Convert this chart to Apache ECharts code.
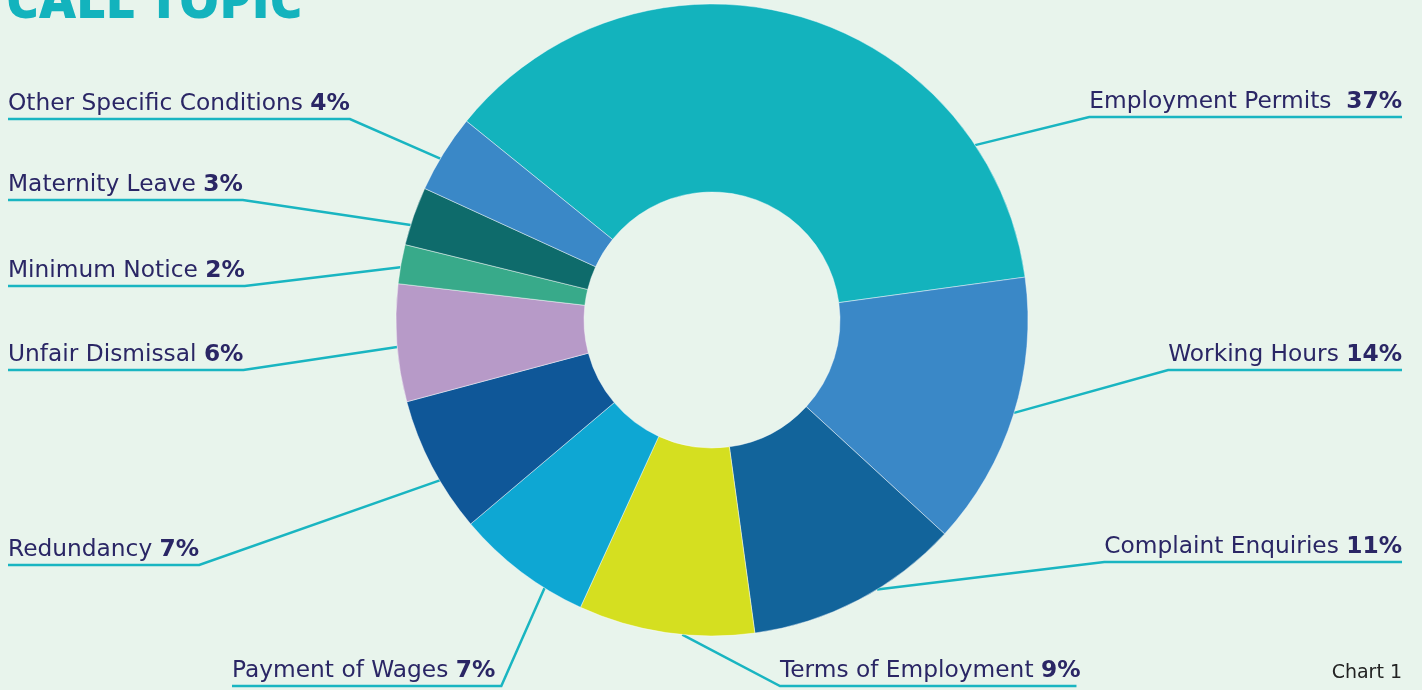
<!DOCTYPE html>
<html>
<head>
<meta charset="utf-8">
<script src="https://cdn.jsdelivr.net/npm/echarts@6/dist/echarts.min.js"></script>
<style>
html,body{margin:0;padding:0;background:#e8f4ec;}
#main{width:1422px;height:690px;}
</style>
</head>
<body>
<div id="main"></div>
<script>
// ---- data ----
const categories = ['Employment Permits', 'Working Hours', 'Complaint Enquiries', 'Terms of Employment',
  'Payment of Wages', 'Redundancy', 'Unfair Dismissal', 'Minimum Notice', 'Maternity Leave', 'Other Specific Conditions'];
const values = [37, 14, 11, 9, 7, 7, 6, 2, 3, 4];
const percentLabels = ['37%', '14%', '11%', '9%', '7%', '7%', '6%', '2%', '3%', '4%'];

// ---- styles / layout ----
const colors = ['#13b3bd', '#3a88c7', '#12649b', '#d5df20', '#0ea7d3', '#0f5798', '#b79ac8', '#38aa8a', '#0e6b6b', '#3a88c7'];
const CX = 712, CY = 320, R_IN = 128, R_OUT = 316;
const labelPlacement = [
  { side: 'right', uy: 117, anchor: 33.6 },
  { side: 'right', uy: 370, anchor: -17.1 },
  { side: 'right', uy: 562, anchor: -58.5 },
  { side: 'bottomR', x: 780, uy: 686, anchor: 264.6 },
  { side: 'bottomL', x: 232, uy: 686, anchor: 238 },
  { side: 'left', uy: 565, anchor: 210.5 },
  { side: 'left', uy: 370, anchor: 184.9 },
  { side: 'left', uy: 286, anchor: 170.4 },
  { side: 'left', uy: 200, anchor: 162.5 },
  { side: 'left', uy: 119, anchor: 149.3 }
];
const TEXT = '#2a2665';
const LINE = '#19b5c1';
const FONT = '"DejaVu Sans", "Open Sans", sans-serif';
const TITLE_FONT = '"Open Sans", "DejaVu Sans", sans-serif';

const chart = echarts.init(document.getElementById('main'), null, { renderer: 'canvas' });

const data = categories.map((name, i) => ({
  name, value: values[i],
  itemStyle: { color: colors[i] }
}));

chart.setOption({
  backgroundColor: '#e8f4ec',
  animation: false,
  title: {
    text: 'CALL TOPIC',
    left: 1, top: -27,
    textStyle: { color: '#13b3bd', fontSize: 51, fontWeight: 800, fontFamily: TITLE_FONT }
  },
  graphic: [{
    type: 'text', right: 20, top: 664,
    style: { text: 'Chart 1', fill: '#222222', font: '19px ' + FONT }
  }],
  series: [{
    type: 'pie',
    center: [CX, CY],
    radius: [R_IN, R_OUT],
    startAngle: 141,
    clockwise: true,
    avoidLabelOverlap: false,
    data,
    itemStyle: { borderColor: 'rgba(255,255,255,0.55)', borderWidth: 0.8 },
    label: {
      show: true,
      position: 'outside',
      formatter: p => '{n|' + p.name + (p.dataIndex === 0 ? '  ' : ' ') + '}{p|' + percentLabels[p.dataIndex] + '}',
      rich: {
        n: { fontSize: 23.3, color: TEXT, fontFamily: FONT },
        p: { fontSize: 23.3, color: TEXT, fontFamily: FONT, fontWeight: 'bold' }
      }
    },
    labelLine: { show: true, length: 20, length2: 20, smooth: false, lineStyle: { color: LINE, width: 2.5 } },
    emphasis: { disabled: true },
    labelLayout: function (params) {
      const i = params.dataIndex;
      const L = labelPlacement[i];
      const w = params.labelRect.width;
      const a = L.anchor * Math.PI / 180;
      const ax = CX + R_OUT * Math.cos(a), ay = CY - R_OUT * Math.sin(a);
      const ty = L.uy - 15;
      let x, align, pts;
      if (L.side === 'left') {
        x = 8; align = 'left';
        pts = [[ax, ay], [8 + w, L.uy], [8, L.uy]];
      } else if (L.side === 'right') {
        x = 1402; align = 'right';
        pts = [[ax, ay], [1402 - w, L.uy], [1402, L.uy]];
      } else if (L.side === 'bottomL') {
        x = L.x; align = 'left';
        pts = [[ax, ay], [L.x + w + 6, L.uy], [L.x, L.uy]];
      } else {
        x = L.x; align = 'left';
        pts = [[ax, ay], [L.x, L.uy], [L.x + w - 4, L.uy]];
      }
      return { x: x, y: ty, align: align, verticalAlign: 'middle', labelLinePoints: pts };
    }
  }]
});
</script>
</body>
</html>
